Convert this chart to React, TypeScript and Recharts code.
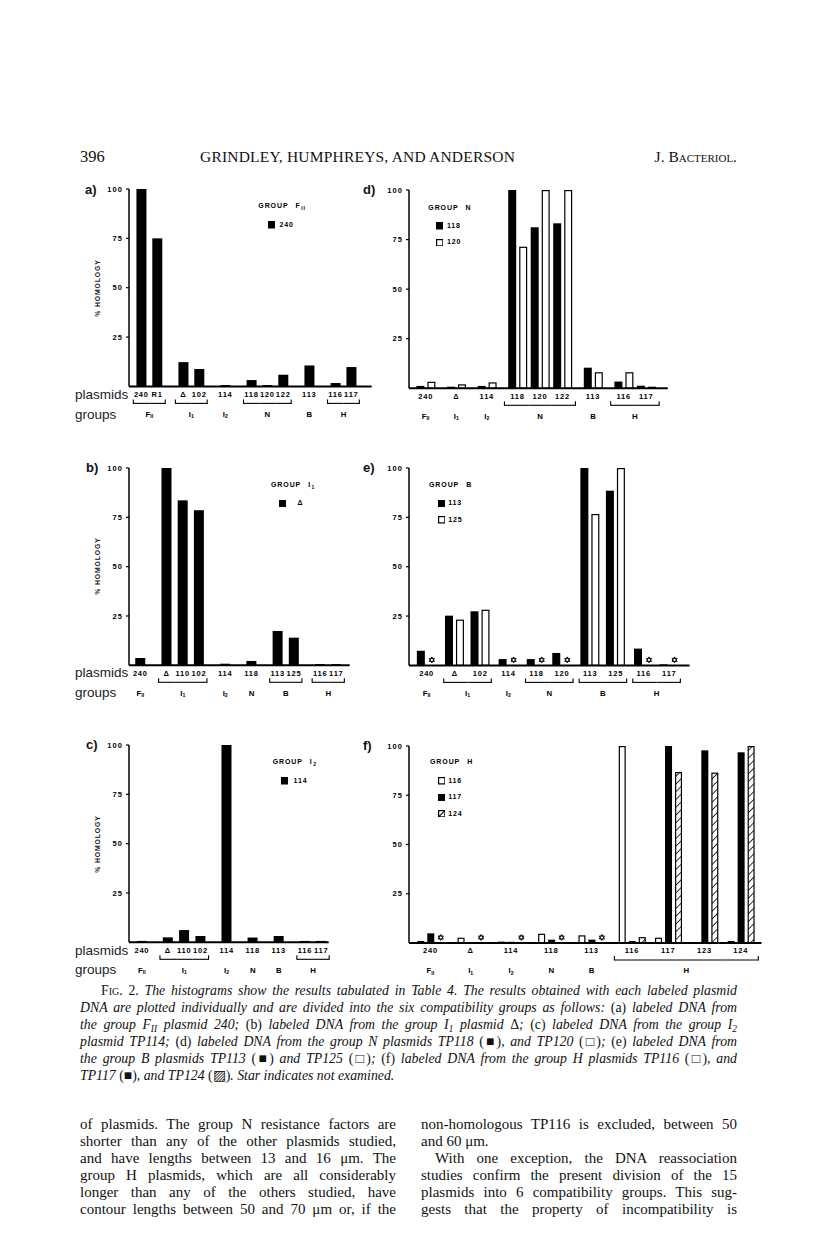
import React from 'react';
import { BarChart, Bar, XAxis, YAxis, Legend } from 'recharts';

const SANS = '"Liberation Sans", Arial, sans-serif';
const SERIF = '"Liberation Serif", "Times New Roman", serif';

// ---------------- data ----------------
const yTicks = [25, 50, 75, 100];

const aPlasmids = ['240', 'R1', 'Δ', '102', '114', '118', '120', '122', '113', '116', '117'];
const aGroups = ['F_II', 'F_II', 'I_1', 'I_1', 'I_2', 'N', 'N', 'N', 'B', 'H', 'H'];
const aLabel240 = [100, 75, 12.3, 8.8, 0.7, 3.2, 0.7, 5.9, 10.6, 1.7, 9.8];

const bPlasmids = ['240', 'Δ', '110', '102', '114', '118', '113', '125', '116', '117'];
const bGroups = ['F_II', 'I_1', 'I_1', 'I_1', 'I_2', 'N', 'B', 'B', 'H', 'H'];
const bLabelDelta = [3.7, 100, 83.6, 78.6, 0.8, 2.2, 17.4, 14, 0.6, 0.6];

const cPlasmids = ['240', 'Δ', '110', '102', '114', '118', '113', '116', '117'];
const cGroups = ['F_II', 'I_1', 'I_1', 'I_1', 'I_2', 'N', 'B', 'H', 'H'];
const cLabel114 = [0.7, 2.5, 6.2, 3.2, 100, 2.4, 3.2, 0.7, 0.7];

const dPlasmids = ['240', 'Δ', '114', '118', '120', '122', '113', '116', '117'];
const dGroups = ['F_II', 'I_1', 'I_2', 'N', 'N', 'N', 'B', 'H', 'H'];
const dLabel118 = [1.2, 0.8, 1.2, 100, 81.2, 83.2, 10.4, 3.4, 1.3];
const dLabel120 = [3.3, 2, 3, 71.4, 100, 100, 8.1, 8.1, 0.8];

const ePlasmids = ['240', 'Δ', '102', '114', '118', '120', '113', '125', '116', '117'];
const eGroups = ['F_II', 'I_1', 'I_1', 'I_2', 'N', 'N', 'B', 'B', 'H', 'H'];
const eLabel113 = [7.4, 25.2, 27.4, 3.2, 3.2, 6.3, 100, 88.5, 8.5, 0.5];
const eLabel125: (number | null)[] = [null, 23.2, 28.2, null, null, null, 76.7, 100, null, null];

const fPlasmids = ['240', 'Δ', '114', '118', '113', '116', '117', '123', '124'];
const fGroups = ['F_II', 'I_1', 'I_2', 'N', 'B', 'H', 'H', 'H', 'H'];
const fLabel116 = [1, 2.7, 0.7, 4.7, 3.9, 100, 2.7, 0.5, 1];
const fLabel117 = [4.9, 0.5, 0.6, 1.7, 1.7, 1, 100, 97.8, 96.8];
const fLabel124: (number | null)[] = [null, null, null, null, null, 3, 86.8, 86.5, 100];

// ---------------- types & layout ----------------
type Kind = 'solid' | 'open' | 'hatch';
type Series = { name: string; values: (number | null)[]; kind: Kind };
type PanelCfg = {
  key: string;
  letter: string;
  letterX: number;
  letterY: number;
  plasmids: string[];
  groups: string[];
  series: Series[];
  legendGroup: string;
  axisX: number;
  topY: number;
  baseY: number;
  unitPx: number;
  gapF: number;
  padL: number;
  padR: number;
  barSize: number;
  barGap: number;
  ext: number;
  legendX: number;
  legendY: number;
  sqOff: number;
  txtGap: number;
  homology: boolean;
};

const panels: PanelCfg[] = [
  {
    key: 'a', letter: 'a)', letterX: 85, letterY: 190,
    plasmids: aPlasmids, groups: aGroups,
    series: [{ name: '240', values: aLabel240, kind: 'solid' }],
    legendGroup: 'F_II',
    axisX: 129.3, topY: 189.3, baseY: 386.7, unitPx: 15.85, gapF: 0.65, padL: 0.78, padR: 1.28,
    barSize: 10, barGap: 0, ext: 8, legendX: 258.3, legendY: 206.5, sqOff: 9.4, txtGap: 4.3, homology: true,
  },
  {
    key: 'b', letter: 'b)', letterX: 86, letterY: 468,
    plasmids: bPlasmids, groups: bGroups,
    series: [{ name: 'Δ', values: bLabelDelta, kind: 'solid' }],
    legendGroup: 'I_1',
    axisX: 128.7, topY: 467.7, baseY: 665, unitPx: 16.2, gapF: 0.62, padL: 0.7, padR: 0.82,
    barSize: 10, barGap: 0, ext: 8, legendX: 271, legendY: 485, sqOff: 8, txtGap: 11, homology: true,
  },
  {
    key: 'c', letter: 'c)', letterX: 86, letterY: 745,
    plasmids: cPlasmids, groups: cGroups,
    series: [{ name: '114', values: cLabel114, kind: 'solid' }],
    legendGroup: 'I_2',
    axisX: 128.7, topY: 745, baseY: 942.3, unitPx: 16.3, gapF: 0.6, padL: 0.79, padR: 0.46,
    barSize: 10, barGap: 0, ext: 8, legendX: 272.7, legendY: 762.3, sqOff: 8.3, txtGap: 5, homology: true,
  },
  {
    key: 'd', letter: 'd)', letterX: 363, letterY: 190,
    plasmids: dPlasmids, groups: dGroups,
    series: [
      { name: '118', values: dLabel118, kind: 'solid' },
      { name: '120', values: dLabel120, kind: 'open' },
    ],
    legendGroup: 'N',
    axisX: 409.3, topY: 190, baseY: 388.3, unitPx: 22.5, gapF: 0.36, padL: 0.74, padR: 0.96,
    barSize: 8, barGap: 3, ext: 13, legendX: 428.3, legendY: 207.5, sqOff: 7.7, txtGap: 3.4, homology: false,
  },
  {
    key: 'e', letter: 'e)', letterX: 363, letterY: 468,
    plasmids: ePlasmids, groups: eGroups,
    series: [
      { name: '113', values: eLabel113, kind: 'solid' },
      { name: '125', values: eLabel125, kind: 'open' },
    ],
    legendGroup: 'B',
    axisX: 408.7, topY: 468.3, baseY: 665.7, unitPx: 25.55, gapF: 0.1, padL: 0.69, padR: 0.79,
    barSize: 8, barGap: 3, ext: 11, legendX: 429, legendY: 485, sqOff: 8.7, txtGap: 3, homology: false,
  },
  {
    key: 'f', letter: 'f)', letterX: 363, letterY: 746,
    plasmids: fPlasmids, groups: fGroups,
    series: [
      { name: '116', values: fLabel116, kind: 'open' },
      { name: '117', values: fLabel117, kind: 'solid' },
      { name: '124', values: fLabel124, kind: 'hatch' },
    ],
    legendGroup: 'H',
    axisX: 409.3, topY: 745.7, baseY: 942.7, unitPx: 36.3, gapF: 0.11, padL: 0.59, padR: 0.57,
    barSize: 7, barGap: 3, ext: 17.5, legendX: 430, legendY: 762.5, sqOff: 7.7, txtGap: 3, homology: false,
  },
];

const YW = 30;
const MT = 8;
const XH = 38;
const MR = 4;

function buildRows(cfg: PanelCfg) {
  let g = -1;
  let prev: string | null = null;
  return cfg.plasmids.map((p, i) => {
    if (cfg.groups[i] !== prev) {
      g += 1;
      prev = cfg.groups[i];
    }
    const row: any = { label: p, group: cfg.groups[i], pos: i + g * cfg.gapF, idx: i };
    cfg.series.forEach((s, k) => {
      const v = s.values[i];
      row['v' + k] = v == null ? 0 : v;
      row['ne' + k] = v == null;
    });
    return row;
  });
}

// ---------------- marks ----------------
function StarMark({ cx, cy, r }: { cx: number; cy: number; r: number }) {
  const pts = (rot: number) =>
    [0, 1, 2]
      .map((k) => {
        const a = rot + (k * 2 * Math.PI) / 3;
        return `${cx + r * Math.sin(a)},${cy - r * Math.cos(a)}`;
      })
      .join(' ');
  return (
    <g fill="none" stroke="#000" strokeWidth={0.9}>
      <polygon points={pts(0)} />
      <polygon points={pts(Math.PI)} />
    </g>
  );
}

const makeShape = (kind: Kind, neKey: string, hatchId: string) => (p: any) => {
  const { x, y, width, height, payload } = p;
  if (x == null || Number.isNaN(x)) return <g />;
  const base = y + height;
  if (payload && payload[neKey]) {
    return <StarMark cx={x + width / 2} cy={base - 5.5} r={3} />;
  }
  const h = Math.max(height, 1);
  const top = base - h;
  if (kind === 'solid') {
    return <rect x={x} y={top} width={width} height={h} fill="#000" />;
  }
  return (
    <rect
      x={x + 0.6}
      y={top + 0.6}
      width={Math.max(width - 1.2, 0.5)}
      height={Math.max(h - 0.6, 0.5)}
      fill={kind === 'open' ? '#fff' : `url(#${hatchId})`}
      stroke="#000"
      strokeWidth={1.2}
    />
  );
};

function GroupSvgText({ x, y, g }: { x: number; y: number; g: string }) {
  const [main, sub] = g.split('_');
  return (
    <text x={x} y={y} textAnchor="middle" dominantBaseline="central" fontFamily={SANS} fontWeight={700} fontSize={7.8} fill="#000">
      {main}
      {sub ? (
        <tspan fontSize={5.2} dy={2}>
          {sub}
        </tspan>
      ) : null}
    </text>
  );
}

function GroupHtml({ g }: { g: string }) {
  const [main, sub] = g.split('_');
  return (
    <span>
      {main}
      {sub ? <span style={{ fontSize: 5, position: 'relative', top: 2, marginLeft: 0.5 }}>{sub}</span> : null}
    </span>
  );
}

function Swatch({ kind }: { kind: Kind }) {
  const s = 7.5;
  return (
    <svg width={s} height={s} style={{ display: 'block' }}>
      <rect x={0.6} y={0.6} width={s - 1.2} height={s - 1.2} fill={kind === 'solid' ? '#000' : '#fff'} stroke="#000" strokeWidth={1.2} />
      {kind === 'hatch' ? <line x1={0.8} y1={s - 0.8} x2={s - 0.8} y2={0.8} stroke="#000" strokeWidth={1.1} /> : null}
    </svg>
  );
}

// ---------------- panel ----------------
function Panel({ cfg }: { cfg: PanelCfg }) {
  const rows = buildRows(cfg);
  const maxPos = rows[rows.length - 1].pos;
  const d0 = -cfg.padL;
  const d1 = maxPos + cfg.padR;
  const plotW = (d1 - d0) * cfg.unitPx;
  const plotH = cfg.baseY - cfg.topY;
  const W = YW + plotW + MR;
  const H = MT + plotH + XH;
  const left = cfg.axisX - YW;
  const top = cfg.topY - MT;
  const baseline = MT + plotH;
  const hatchId = 'hatch-' + cfg.key;

  const tickFn = (props: any) => {
    const { x, payload } = props;
    const row = rows.find((r) => Math.abs(r.pos - payload.value) < 1e-6);
    if (!row) return <g />;
    const members = rows.filter((r) => r.group === row.group);
    const k = members.indexOf(row);
    const n = members.length;
    const u = cfg.unitPx;
    const ly = baseline + 17;
    const els: React.ReactNode[] = [];
    els.push(
      <text key="t" x={x} y={baseline + 8} textAnchor="middle" dominantBaseline="central" fontFamily={SANS} fontWeight={700} fontSize={7.5} letterSpacing={0.8} fill="#000">
        {row.label}
      </text>
    );
    if (n > 1) {
      const l = k === 0 ? x - cfg.ext : x - u / 2;
      const r = k === n - 1 ? x + cfg.ext : x + u / 2;
      els.push(<line key="b" x1={l} x2={r} y1={ly} y2={ly} stroke="#000" strokeWidth={1.1} />);
      if (k === 0) els.push(<line key="bl" x1={l} x2={l} y1={ly + 0.5} y2={ly - 4} stroke="#000" strokeWidth={1.1} />);
      if (k === n - 1) els.push(<line key="br" x1={r} x2={r} y1={ly + 0.5} y2={ly - 4} stroke="#000" strokeWidth={1.1} />);
    }
    if (k === 0) {
      els.push(<GroupSvgText key="g" x={x + ((n - 1) * u) / 2} y={baseline + 28} g={row.group} />);
    }
    return <g>{els}</g>;
  };

  const legendContent = () => (
    <div style={{ fontFamily: SANS, fontWeight: 700, fontSize: 7, color: '#000', letterSpacing: 0.9, lineHeight: '10px' }}>
      <div style={{ height: 10, whiteSpace: 'nowrap' }}>
        GROUP
        <span style={{ marginLeft: 7 }}>
          <GroupHtml g={cfg.legendGroup} />
        </span>
      </div>
      {cfg.series.map((s, k) => (
        <div
          key={k}
          style={{ display: 'flex', alignItems: 'center', height: 10, marginTop: k === 0 ? 8.5 : 6.3, paddingLeft: cfg.sqOff, whiteSpace: 'nowrap' }}
        >
          <Swatch kind={s.kind} />
          <span style={{ marginLeft: cfg.txtGap }}>{s.name}</span>
        </div>
      ))}
    </div>
  );

  return (
    <div style={{ position: 'absolute', left, top, width: W, height: H }}>
      <BarChart width={W} height={H} data={rows} margin={{ top: MT, right: MR, left: 0, bottom: 0 }} barGap={cfg.barGap}>
        <defs>
          <pattern id={hatchId} width={5.5} height={5.5} patternUnits="userSpaceOnUse" patternTransform="rotate(45)">
            <rect width={5.5} height={5.5} fill="#fff" />
            <line x1={0} y1={0} x2={0} y2={5.5} stroke="#000" strokeWidth={1.6} />
          </pattern>
        </defs>
        <XAxis
          type="number"
          dataKey="pos"
          scale="linear"
          domain={[d0, d1]}
          allowDataOverflow
          ticks={rows.map((r) => r.pos)}
          interval={0}
          tickLine={false}
          axisLine={{ stroke: '#000', strokeWidth: 2 }}
          height={XH}
          tick={tickFn}
        />
        <YAxis
          type="number"
          domain={[0, 100]}
          allowDataOverflow
          ticks={yTicks}
          interval={0}
          width={YW}
          tickSize={3}
          tickMargin={3}
          axisLine={{ stroke: '#000', strokeWidth: 1.5 }}
          tickLine={{ stroke: '#000', strokeWidth: 1.2 }}
          tick={{ fontSize: 7.5, fontWeight: 700, fill: '#000', fontFamily: SANS, letterSpacing: 1.1 }}
        />
        <Legend
          layout="vertical"
          align="center"
          verticalAlign="middle"
          content={legendContent}
          wrapperStyle={{ left: cfg.legendX - left, top: cfg.legendY - 5 - top, width: 'auto' }}
        />
        {cfg.series.map((s, k) => (
          <Bar
            key={k}
            dataKey={'v' + k}
            name={s.name}
            barSize={cfg.barSize}
            fill="#000"
            isAnimationActive={false}
            shape={makeShape(s.kind, 'ne' + k, hatchId)}
          />
        ))}
      </BarChart>
    </div>
  );
}

// ---------------- page text helpers ----------------
function Abs({ x, y, size, style, children }: { x: number; y: number; size: number; style?: React.CSSProperties; children: React.ReactNode }) {
  return (
    <div style={{ position: 'absolute', left: x, top: y - size * 0.6, fontSize: size, lineHeight: `${size * 1.2}px`, whiteSpace: 'nowrap', ...style }}>
      {children}
    </div>
  );
}

function Line({ x, y, w, size, italic, last, children }: { x: number; y: number; w: number; size: number; italic?: boolean; last?: boolean; children: React.ReactNode }) {
  return (
    <div
      style={{
        position: 'absolute',
        left: x,
        top: y - 10,
        width: w,
        height: 20,
        lineHeight: '20px',
        fontFamily: SERIF,
        fontSize: size,
        fontStyle: italic ? 'italic' : 'normal',
        textAlign: last ? 'left' : 'justify',
        textAlignLast: last ? 'left' : 'justify',
        color: '#111',
      }}
    >
      {children}
    </div>
  );
}

const Up = ({ children }: { children: React.ReactNode }) => <span style={{ fontStyle: 'normal' }}>{children}</span>;
const Sub = ({ children }: { children: React.ReactNode }) => (
  <span style={{ fontSize: '68%', position: 'relative', top: 3 }}>{children}</span>
);

export default function App() {
  const capY = [991, 1008, 1025, 1042, 1059, 1076];
  const bodyY = [1124, 1141, 1158, 1175, 1192, 1209];
  const CS = 13.8;
  const BS = 15;
  return (
    <div style={{ position: 'absolute', left: 0, top: 0, width: 816, height: 1259, background: '#fff', overflow: 'hidden', color: '#111' }}>
      {/* running head */}
      <Abs x={80} y={157} size={16.5} style={{ fontFamily: SERIF }}>396</Abs>
      <Abs x={200} y={157} size={15.5} style={{ fontFamily: SERIF, letterSpacing: 0.2 }}>GRINDLEY, HUMPHREYS, AND ANDERSON</Abs>
      <div style={{ position: 'absolute', left: 560, width: 177, top: 157 - 9.3, fontSize: 15.5, lineHeight: '18.6px', textAlign: 'right', fontFamily: SERIF, whiteSpace: 'nowrap' }}>
        J. <span style={{ fontVariant: 'small-caps' }}>Bacteriol.</span>
      </div>

      {panels.map((cfg) => (
        <Panel key={cfg.key} cfg={cfg} />
      ))}

      {/* panel letters & axis titles */}
      {panels.map((cfg) => (
        <Abs key={'L' + cfg.key} x={cfg.letterX} y={cfg.letterY} size={13} style={{ fontFamily: SANS, fontWeight: 700 }}>
          {cfg.letter}
        </Abs>
      ))}
      {panels
        .filter((cfg) => cfg.homology)
        .map((cfg) => (
          <div
            key={'H' + cfg.key}
            style={{
              position: 'absolute',
              left: 98,
              top: (cfg.topY + cfg.baseY) / 2,
              transform: 'translate(-50%, -50%) rotate(-90deg)',
              fontFamily: SANS,
              fontWeight: 700,
              fontSize: 6.8,
              letterSpacing: 0.9,
              whiteSpace: 'nowrap',
              lineHeight: '8px',
            }}
          >
            % HOMOLOGY
          </div>
        ))}
      {panels
        .filter((cfg) => cfg.homology)
        .map((cfg) => (
          <React.Fragment key={'R' + cfg.key}>
            <Abs x={75} y={cfg.baseY + 8.3} size={13.5} style={{ fontFamily: SANS, color: '#222' }}>plasmids</Abs>
            <Abs x={75} y={cfg.baseY + 28} size={13.5} style={{ fontFamily: SANS, color: '#222' }}>groups</Abs>
          </React.Fragment>
        ))}

      {/* caption */}
      <Line x={101} y={capY[0]} w={636} size={CS} italic>
        <Up><span style={{ fontVariant: 'small-caps' }}>Fig.</span> 2.</Up> The histograms show the results tabulated in Table 4. The results obtained with each labeled plasmid
      </Line>
      <Line x={80} y={capY[1]} w={657} size={CS} italic>
        DNA are plotted individually and are divided into the six compatibility groups as follows: <Up>(a)</Up> labeled DNA from
      </Line>
      <Line x={80} y={capY[2]} w={657} size={CS} italic>
        the group F<Sub>II</Sub> plasmid 240; <Up>(b)</Up> labeled DNA from the group I<Sub>1</Sub> plasmid <Up>Δ</Up>; <Up>(c)</Up> labeled DNA from the group I<Sub>2</Sub>
      </Line>
      <Line x={80} y={capY[3]} w={657} size={CS} italic>
        plasmid TP114; <Up>(d)</Up> labeled DNA from the group N plasmids TP118 <Up>(■)</Up>, and TP120 <Up>(□)</Up>; <Up>(e)</Up> labeled DNA from
      </Line>
      <Line x={80} y={capY[4]} w={657} size={CS} italic>
        the group B plasmids TP113 <Up>(■)</Up> and TP125 <Up>(□)</Up>; <Up>(f)</Up> labeled DNA from the group H plasmids TP116 <Up>(□)</Up>, and
      </Line>
      <Line x={80} y={capY[5]} w={657} size={CS} italic last>
        TP117 <Up>(■)</Up>, and TP124 <Up>(▨)</Up>. Star indicates not examined.
      </Line>

      {/* body text, left column */}
      <Line x={80} y={bodyY[0]} w={316} size={BS}>of plasmids. The group N resistance factors are</Line>
      <Line x={80} y={bodyY[1]} w={316} size={BS}>shorter than any of the other plasmids studied,</Line>
      <Line x={80} y={bodyY[2]} w={316} size={BS}>and have lengths between 13 and 16 μm. The</Line>
      <Line x={80} y={bodyY[3]} w={316} size={BS}>group H plasmids, which are all considerably</Line>
      <Line x={80} y={bodyY[4]} w={316} size={BS}>longer than any of the others studied, have</Line>
      <Line x={80} y={bodyY[5]} w={316} size={BS}>contour lengths between 50 and 70 μm or, if the</Line>

      {/* body text, right column */}
      <Line x={421} y={bodyY[0]} w={316} size={BS}>non-homologous TP116 is excluded, between 50</Line>
      <Line x={421} y={bodyY[1]} w={316} size={BS} last>and 60 μm.</Line>
      <Line x={435} y={bodyY[2]} w={302} size={BS}>With one exception, the DNA reassociation</Line>
      <Line x={421} y={bodyY[3]} w={316} size={BS}>studies confirm the present division of the 15</Line>
      <Line x={421} y={bodyY[4]} w={316} size={BS}>plasmids into 6 compatibility groups. This sug-</Line>
      <Line x={421} y={bodyY[5]} w={316} size={BS}>gests that the property of incompatibility is</Line>
    </div>
  );
}
